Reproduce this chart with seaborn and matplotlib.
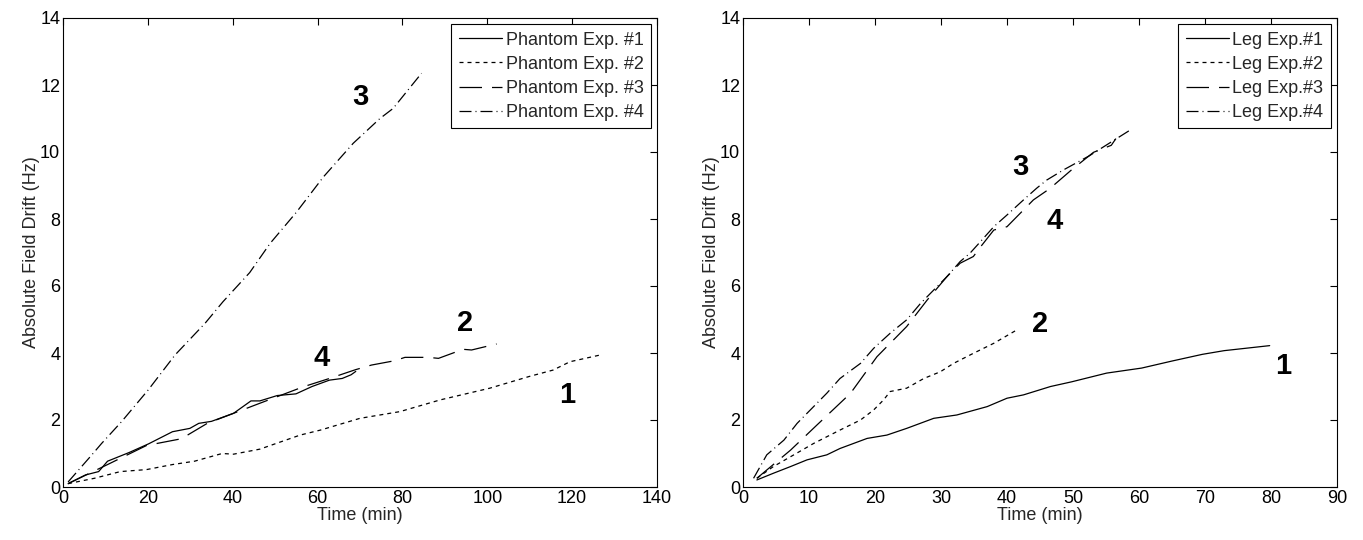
import numpy as np
import pandas as pd
import matplotlib
matplotlib.use("Agg")
import matplotlib.pyplot as plt
import seaborn as sns

# ---------------- data ----------------
# Phantom experiments (left panel)
ph1_t = [1.2, 5.3, 8.4, 10.5, 15.6, 20.2, 25.8, 29.9, 32.0, 35.0, 40.2, 44.3, 46.4,
         50.5, 54.9, 58.7, 62.8, 65.8, 67.9, 69.0]
ph1_y = [0.10, 0.36, 0.46, 0.77, 1.03, 1.29, 1.65, 1.75, 1.90, 1.96, 2.20, 2.57, 2.57,
         2.73, 2.78, 3.00, 3.19, 3.24, 3.35, 3.45]
ph2_t = [1.2, 7.4, 13.5, 19.7, 25.8, 31.0, 37.5, 40.2, 46.4, 55.9, 60.7, 70.0, 79.4,
         88.9, 100.6, 109.9, 115.5, 119.5, 126.6]
ph2_y = [0.10, 0.26, 0.46, 0.52, 0.67, 0.77, 1.00, 0.98, 1.13, 1.55, 1.70, 2.05, 2.25,
         2.60, 2.95, 3.30, 3.49, 3.74, 3.94]
ph3_t = [1.2, 10.5, 19.7, 27.9, 34.0, 40.2, 46.4, 56.6, 62.8, 68.9, 72.7, 78.2, 80.6,
         86.1, 88.5, 94.3, 96.3, 102.2]
ph3_y = [0.10, 0.67, 1.24, 1.44, 1.90, 2.20, 2.50, 2.99, 3.24, 3.50, 3.64, 3.77, 3.87,
         3.87, 3.84, 4.11, 4.09, 4.27]
ph4_t = [1.2, 6.8, 9.1, 13.8, 20.1, 26.4, 33.5, 37.7, 44.0, 48.8, 55.0, 61.4, 68.4,
         74.7, 77.8, 84.5]
ph4_y = [0.15, 0.96, 1.30, 1.95, 2.90, 3.94, 4.89, 5.53, 6.40, 7.27, 8.20, 9.26, 10.26,
         11.00, 11.30, 12.35]

# Leg experiments (right panel)
lg1_t = [2.1, 4.6, 7.2, 9.7, 12.7, 14.7, 18.8, 21.8, 24.8, 28.9, 32.4, 37.0, 40.0,
         42.5, 46.6, 49.8, 55.1, 60.4, 65.0, 69.6, 72.9, 79.8]
lg1_y = [0.21, 0.41, 0.61, 0.81, 0.96, 1.15, 1.45, 1.55, 1.75, 2.05, 2.15, 2.40, 2.65,
         2.75, 3.00, 3.14, 3.40, 3.55, 3.76, 3.96, 4.07, 4.22]
lg2_t = [2.1, 4.6, 7.7, 10.7, 14.7, 17.8, 19.8, 21.3, 22.3, 24.8, 27.4, 29.9, 31.9,
         34.9, 38.0, 41.5]
lg2_y = [0.26, 0.61, 0.96, 1.30, 1.70, 2.00, 2.30, 2.60, 2.85, 2.95, 3.24, 3.44, 3.69,
         3.99, 4.29, 4.69]
lg3_t = [2.1, 7.2, 11.2, 16.3, 20.3, 24.8, 27.9, 30.9, 32.9, 34.9, 36.0, 38.0, 40.0,
         42.0, 44.0, 46.5, 49.8, 53.1, 55.8, 56.5]
lg3_y = [0.26, 1.10, 1.85, 2.80, 3.89, 4.79, 5.58, 6.28, 6.68, 6.88, 7.17, 7.67, 7.77,
         8.17, 8.57, 8.91, 9.47, 9.99, 10.20, 10.40]
lg4_t = [1.6, 3.6, 6.2, 8.2, 10.2, 12.7, 14.7, 17.8, 19.8, 22.3, 24.8, 26.9, 28.9,
         30.9, 32.9, 34.4, 35.5, 38.0, 40.0, 42.5, 44.5, 46.0, 48.6, 52.5, 55.8, 58.7]
lg4_y = [0.26, 0.96, 1.40, 1.90, 2.30, 2.80, 3.24, 3.69, 4.14, 4.59, 4.99, 5.48, 5.88,
         6.28, 6.73, 6.98, 7.22, 7.77, 8.12, 8.57, 8.92, 9.16, 9.47, 9.89, 10.30, 10.66]

phantom_names = ["Phantom Exp. #1", "Phantom Exp. #2", "Phantom Exp. #3", "Phantom Exp. #4"]
leg_names = ["Leg Exp.#1", "Leg Exp.#2", "Leg Exp.#3", "Leg Exp.#4"]

# curve tags: (text, x, y)
phantom_tags = [("3", 70.2, 11.64), ("2", 94.7, 4.9), ("4", 61.0, 3.85), ("1", 118.9, 2.75)]
leg_tags = [("3", 42.0, 9.56), ("4", 47.2, 7.93), ("2", 45.0, 4.86), ("1", 81.8, 3.6)]

# ---------------- styling ----------------
sns.set_theme(style="white")
plt.rcParams['font.family'] = ['Liberation Sans', 'DejaVu Sans']

FS = 13
LINE_DASHES = ["", (3.2, 3.2), (18, 8), (9.6, 3.2, 0.8, 3.2)]


def draw_panel(ax, series, names, xmax, xstep, tags):
    frames = [pd.DataFrame({"t": t, "v": v, "exp": n}) for (t, v), n in zip(series, names)]
    df = pd.concat(frames, ignore_index=True)
    sns.lineplot(data=df, x="t", y="v", style="exp", style_order=names,
                 dashes=dict(zip(names, LINE_DASHES)), color="black", lw=0.9,
                 estimator=None, sort=False, ax=ax)
    ax.set_xlim(0, xmax)
    ax.set_ylim(0, 14)
    ax.set_xticks(np.arange(0, xmax + 1, xstep))
    ax.set_yticks(np.arange(0, 15, 2))
    ax.set_xlabel("Time (min)", fontsize=FS, labelpad=0.5)
    ax.set_ylabel("Absolute Field Drift (Hz)", fontsize=FS, labelpad=0)
    ax.tick_params(direction="in", top=True, right=True, length=5, width=0.8,
                   labelsize=FS, colors="black", pad=2)
    for s in ax.spines.values():
        s.set_visible(True)
        s.set_color("black")
        s.set_linewidth(0.8)
    sns.move_legend(ax, "upper right", title=None, frameon=True, fancybox=False,
                    edgecolor="black", framealpha=1, fontsize=FS, handlelength=2.4,
                    handletextpad=0.2, labelspacing=0.4, borderaxespad=0.35,
                    borderpad=0.4)
    leg = ax.get_legend()
    leg.get_frame().set_linewidth(0.8)
    for h in leg.legend_handles:
        h.set_color("black")
        h.set_linewidth(0.9)
    for txt, x, y in tags:
        ax.text(x, y, txt, fontsize=21, fontweight="bold", ha="center", va="center",
                color="black")


fig = plt.figure(figsize=(13.63, 5.40), dpi=100)
ax1 = fig.add_axes([63 / 1363, 53 / 540, 594 / 1363, 469 / 540])
ax2 = fig.add_axes([743 / 1363, 53 / 540, 594 / 1363, 469 / 540])

draw_panel(ax1, [(ph1_t, ph1_y), (ph2_t, ph2_y), (ph3_t, ph3_y), (ph4_t, ph4_y)],
           phantom_names, 140, 20, phantom_tags)
draw_panel(ax2, [(lg1_t, lg1_y), (lg2_t, lg2_y), (lg3_t, lg3_y), (lg4_t, lg4_y)],
           leg_names, 90, 10, leg_tags)

fig.savefig("out.png", dpi=100, facecolor="white")
